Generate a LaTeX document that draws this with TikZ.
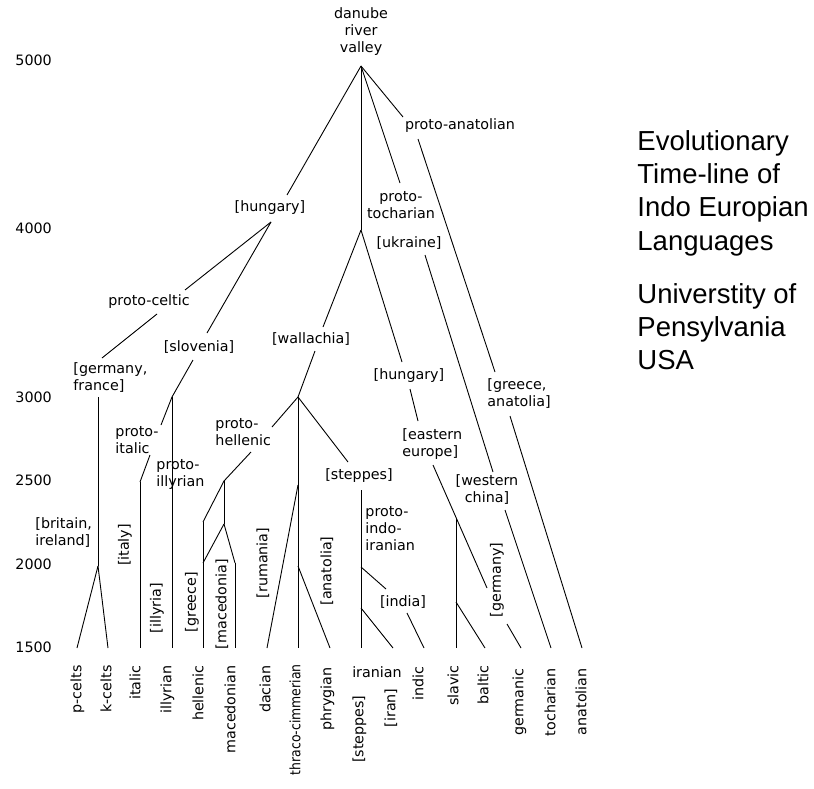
\documentclass[tikz,border=0pt]{standalone}
\usepackage{fontspec}
\setmainfont{DejaVu Sans}
\newfontfamily\titlefont{Liberation Sans}
\begin{document}
\begin{tikzpicture}[x=1pt,y=-1pt,line width=0.9pt,
    lbl/.style={inner sep=0pt,font=\fontsize{14.3}{17}\selectfont},
    vlbl/.style={lbl,rotate=90},
    leaf/.style={lbl,rotate=90,anchor=east,text height=1.5ex,text depth=0.25ex},
    yr/.style={lbl,anchor=west},
    ttl/.style={inner sep=0pt,anchor=north west,align=left,font=\titlefont\fontsize{27.5}{33.3}\selectfont}]
\useasboundingbox (0,0) rectangle (814,789);
{
% Marking years
\draw (15,60) node (y5000) [yr] {5000};
\draw (15,228) node (y4000) [yr] {4000};
\draw (15,397) node (y3000) [yr] {3000};
\draw (15,480) node (y2500) [yr] {2500};
\draw (15,564) node (y2000) [yr] {2000};
\draw (15,647) node (y1500) [yr] {1500};

% Marking title
\draw (637,130) node (title) [ttl] {Evolutionary\\Time-line of\\Indo Europian\\Languages};
\draw (637,283) node (univ) [ttl] {Universtity of\\Pensylvania\\USA};

% Marking places and proto languages
\draw (361,32) node (danube) [lbl,align=center] {danube\\river\\valley};
\draw (270,208) node (hungA) [lbl] {[hungary]};
\draw (401,205) node (ptoch) [lbl,align=center] {proto-\\tocharian};
\draw (460,126) node (panat) [lbl] {proto-anatolian};
\draw (409,243) node (ukr) [lbl] {[ukraine]};
\draw (487,394) node (grana) [lbl,anchor=west,align=left] {[greece,\\anatolia]};
\draw (487,490) node (wchina) [lbl,align=center] {[western\\china]};
\draw (311,339) node (walla) [lbl] {[wallachia]};
\draw (409,376) node (hungB) [lbl] {[hungary]};
\draw (402,444) node (eeur) [lbl,anchor=west,align=left] {[eastern\\europe]};
\draw (215,432) node (phell) [lbl,anchor=west,align=left] {proto-\\hellenic};
\draw (359,476) node (stepA) [lbl] {[steppes]};
\draw (365,529) node (pii) [lbl,anchor=west,align=left] {proto-\\indo-\\iranian};
\draw (403,602) node (india) [lbl] {[india]};
\draw (149,302) node (pcelt) [lbl] {proto-celtic};
\draw (199,347) node (slov) [lbl] {[slovenia]};
\draw (73,378) node (gerfr) [lbl,anchor=west,align=left] {[germany,\\france]};
\draw (35,533) node (brire) [lbl,anchor=west,align=left] {[britain,\\ireland]};
\draw (115,440) node (pital) [lbl,anchor=west,align=left] {proto-\\italic};
\draw (156,474) node (pillyr) [lbl,anchor=west,align=left] {proto-\\illyrian};

% Marking places along the lines
\draw (125,545) node (italy) [vlbl] {[italy]};
\draw (157,608) node (illyria) [vlbl] {[illyria]};
\draw (192,602) node (greece) [vlbl] {[greece]};
\draw (222,604) node (maced) [vlbl] {[macedonia]};
\draw (263,563) node (ruman) [vlbl] {[rumania]};
\draw (327,571) node (anatA) [vlbl] {[anatolia]};
\draw (497,580) node (germ) [vlbl] {[germany]};

% Marking languages
\draw (78,665) node (pcelts) [leaf] {p-celts};
\draw (108,665) node (kcelts) [leaf] {k-celts};
\draw (137,665) node (italic) [leaf] {italic};
\draw (168,665) node (illyrian) [leaf] {illyrian};
\draw (200,665) node (hellenic) [leaf] {hellenic};
\draw (232,665) node (macedonian) [leaf] {macedonian};
\draw (267,665) node (dacian) [leaf] {dacian};
\draw (297,664) node (thraco) [leaf,xscale=0.87] {thraco-cimmerian};
\draw (328,667) node (phrygian) [leaf] {phrygian};
\draw (377,672) node (iranian) [lbl] {iranian};
\draw (360,695) node (stepB) [leaf] {[steppes]};
\draw (392,688) node (iran) [leaf] {[iran]};
\draw (420,666) node (indic) [leaf] {indic};
\draw (455,665) node (slavic) [leaf] {slavic};
\draw (485,665) node (baltic) [leaf] {baltic};
\draw (520,668) node (germanic) [leaf] {germanic};
\draw (552,668) node (tochar) [leaf] {tocharian};
\draw (583,668) node (anatol) [leaf] {anatolian};

% Junctions and line ends
\coordinate (root) at (361,66);
\coordinate (jA) at (361,230);
\coordinate (jW) at (298,397);
\coordinate (jR) at (298,485);
\coordinate (jP) at (298,566);
\coordinate (jH) at (224,481);
\coordinate (jG) at (203,522);
\coordinate (jG2) at (203,563);
\coordinate (jM) at (224,524);
\coordinate (jMa) at (235,563);
\coordinate (jI) at (361,567);
\coordinate (jIr) at (361,608);
\coordinate (jSl) at (456,518);
\coordinate (jB) at (456,602);
\coordinate (hA) at (271,222);
\coordinate (jC) at (98,566);
\coordinate (jS) at (172,397);
\coordinate (jIt) at (140,482);
\foreach \n/\x in {pcelts/77,kcelts/108,italic/140,illyrian/172,hellenic/203,
    macedonian/235,dacian/267,thraco/298,phrygian/330,iranian/361,iran/393,
    indic/424,slavic/456,baltic/485,germanic/521,tochar/551,anatol/582}
  \coordinate (e-\n) at (\x,648);

% Drawing lines from the danube river valley
\draw (root) -- (287,195);
\draw (root) -- (jA);
\draw (root) -- (400,183);
\draw (root) -- (403,117);

% Drawing line anatolian
\draw (418,139) -- (495,372);
\draw (510,416) -- (e-anatol);

% Drawing line tocharian
\draw (425,255) -- (493,472);
\draw (505,510) -- (e-tochar);

% Drawing lines from [hungary] to the west
\draw (hA) -- (185,290);
\draw (hA) -- (207,333);
\draw (157,314) -- (102,358);
\draw (98,397) -- (jC);
\draw (jC) -- (e-pcelts);
\draw (jC) -- (e-kcelts);
\draw (193,360) -- (jS);
\draw (jS) -- (e-illyrian);
\draw (jS) -- (161,425);
\draw (150,455) -- (jIt);
\draw (jIt) -- (e-italic);

% Drawing lines through [wallachia]
\draw (jA) -- (323,327);
\draw (315,351) -- (jW);
\draw (jW) -- (272,427);
\draw (jW) -- (348,462);
\draw (jW) -- (e-thraco);
\draw (jR) -- (e-dacian);
\draw (jP) -- (e-phrygian);

% Drawing lines proto-hellenic
\draw (251,452) -- (jH);
\draw (jH) -- (jG);
\draw (jG) -- (e-hellenic);
\draw (jH) -- (jM);
\draw (jM) -- (jG2);
\draw (jM) -- (jMa);
\draw (jMa) -- (e-macedonian);

% Drawing lines proto-indo-iranian
\draw (361,490) -- (e-iranian);
\draw (jI) -- (386,589);
\draw (407,613) -- (e-indic);
\draw (jIr) -- (e-iran);

% Drawing lines through [eastern europe]
\draw (jA) -- (402,362);
\draw (410,389) -- (418,421);
\draw (433,465) -- (487,588);
\draw (jSl) -- (e-slavic);
\draw (jB) -- (e-baltic);
\draw (507,624) -- (e-germanic);
}
\end{tikzpicture}
\end{document}
